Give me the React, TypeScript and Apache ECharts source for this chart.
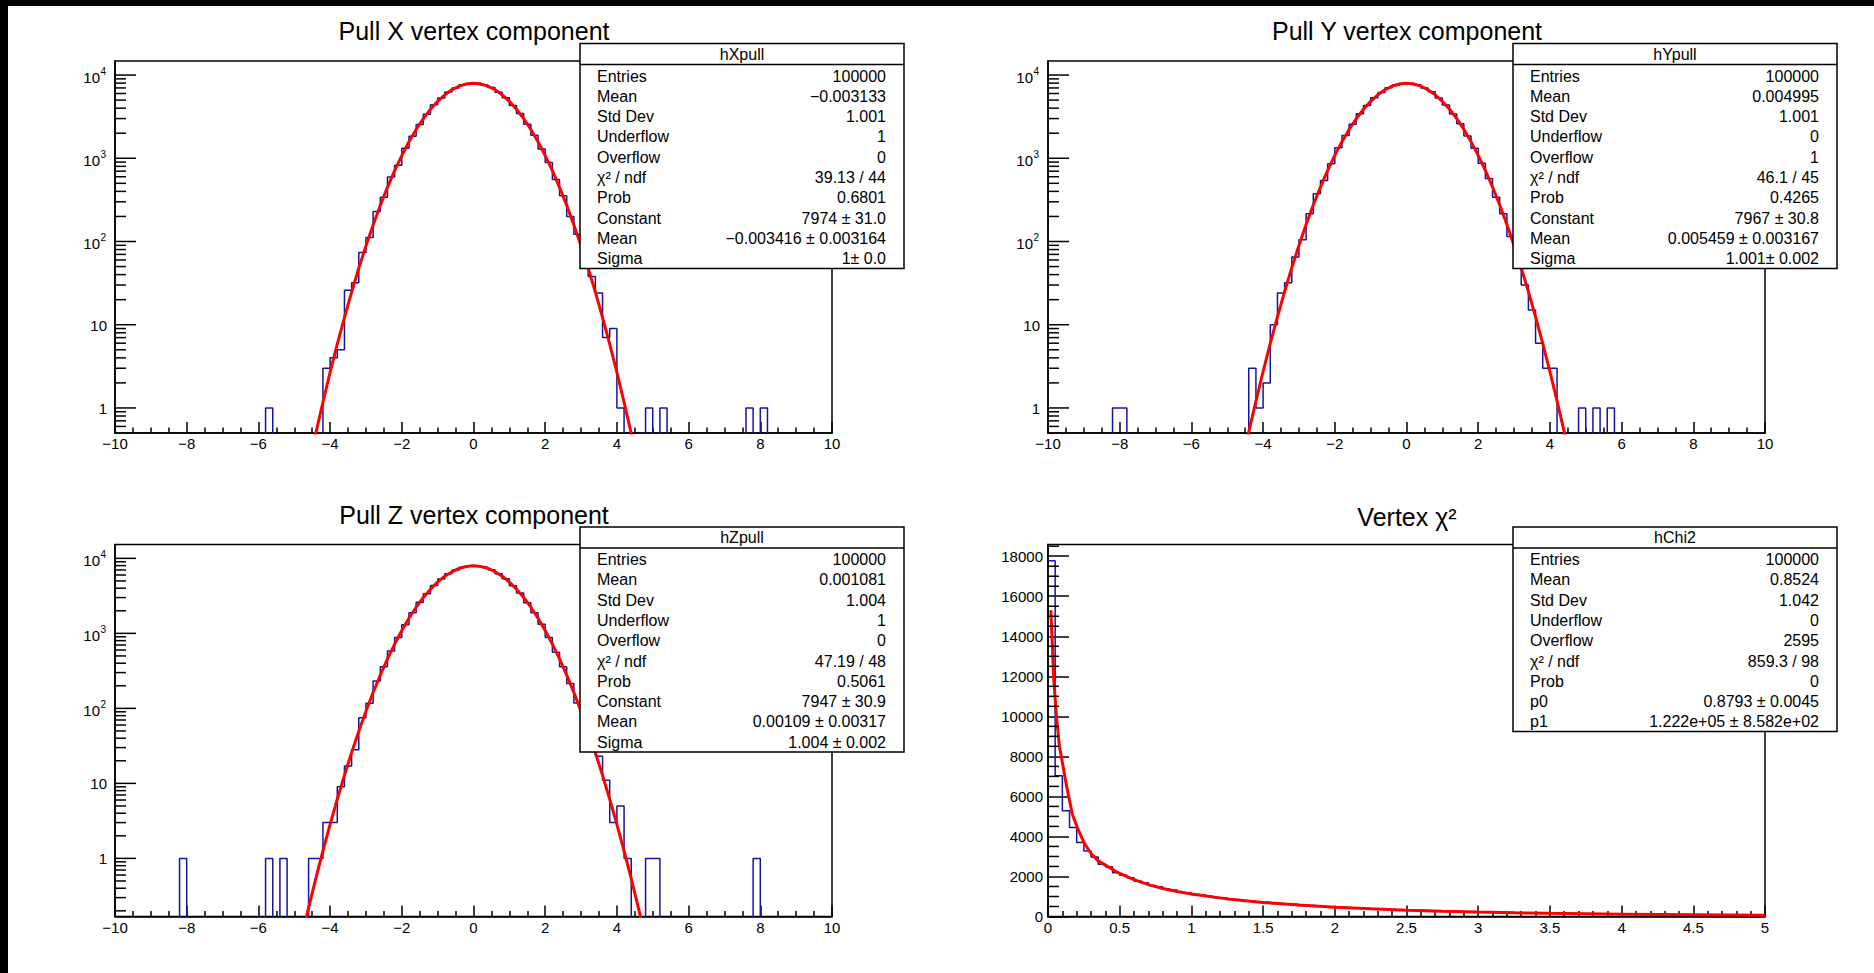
import React, { useEffect, useRef } from "react";
import * as echarts from "echarts";

const FONT = "'Liberation Sans', Arial, Helvetica, sans-serif";
const BLUE = "#1414a0";
const RED = "#ff0000";

// ---------------- data ----------------
const pullBinWidth = 0.2;
const pullXMin = -10;
const pullXMax = 10;
const pullNBins = 100;

// Pull X: bin contents from lower edge xPullCoreStart in 0.2 steps, plus isolated tail bins [lowEdge, count]
const xPullCoreStart = -4.4;
const xPullCore = [0, 3, 4, 5, 26, 32, 74, 112, 229, 340, 596, 824, 1318, 1841, 2540, 3390, 4390, 5290, 6260, 7010, 7650, 7920, 7960, 7600, 7080, 6230, 5330, 4320, 3440, 2570, 1890, 1290, 890, 555, 355, 200, 122, 63, 38, 24, 7, 9, 1];
const xPullTail = [[-5.8, 1], [4.8, 1], [5.2, 1], [7.6, 1], [8.0, 1]];

const yPullCoreStart = -4.4;
const yPullCore = [3, 1, 2, 10, 24, 32, 65, 105, 215, 375, 540, 860, 1340, 1880, 2560, 3420, 4300, 5350, 6190, 7060, 7610, 7900, 7980, 7650, 7000, 6280, 5300, 4380, 3400, 2600, 1850, 1320, 870, 570, 340, 215, 115, 70, 30, 15, 6, 3, 3];
const yPullTail = [[-8.2, 1], [-8.0, 1], [4.8, 1], [5.2, 1], [5.6, 1]];

const zPullCoreStart = -4.6;
const zPullCore = [1, 1, 3, 3, 9, 17, 28, 75, 117, 231, 360, 580, 880, 1300, 1890, 2600, 3380, 4360, 5300, 6220, 6990, 7630, 7880, 7940, 7590, 7060, 6250, 5360, 4310, 3450, 2560, 1880, 1320, 880, 560, 360, 215, 118, 62, 33, 23, 11, 3, 5, 1];
const zPullTail = [[-8.2, 1], [-5.8, 1], [-5.4, 1], [4.8, 1], [5.0, 1], [7.8, 1]];

// Gaussian fit curves
const fitX48 = [-4.8, -4.6, -4.4, -4.2, -4.0, -3.8, -3.6, -3.4, -3.2, -3.0, -2.8, -2.6, -2.4, -2.2, -2.0, -1.8, -1.6, -1.4, -1.2, -1.0, -0.8, -0.6, -0.4, -0.2, 0, 0.2, 0.4, 0.6, 0.8, 1.0, 1.2, 1.4, 1.6, 1.8, 2.0, 2.2, 2.4, 2.6, 2.8, 3.0, 3.2, 3.4, 3.6, 3.8, 4.0, 4.2, 4.4, 4.6, 4.8];
const fitX50 = [-5.0, -4.8, -4.6, -4.4, -4.2, -4.0, -3.8, -3.6, -3.4, -3.2, -3.0, -2.8, -2.6, -2.4, -2.2, -2.0, -1.8, -1.6, -1.4, -1.2, -1.0, -0.8, -0.6, -0.4, -0.2, 0, 0.2, 0.4, 0.6, 0.8, 1.0, 1.2, 1.4, 1.6, 1.8, 2.0, 2.2, 2.4, 2.6, 2.8, 3.0, 3.2, 3.4, 3.6, 3.8, 4.0, 4.2, 4.4, 4.6, 4.8, 5.0];
const xFit = [0.079, 0.202, 0.496, 1.17, 2.67, 5.84, 12.2, 24.6, 47.7, 88.6, 158, 272, 448, 709, 1079, 1578, 2217, 2993, 3881, 4837, 5790, 6661, 7361, 7816, 7974, 7816, 7361, 6661, 5790, 4837, 3881, 2993, 2217, 1578, 1079, 709, 448, 272, 158, 88.6, 47.7, 24.6, 12.2, 5.84, 2.67, 1.17, 0.496, 0.202, 0.079];
const yFit = [0.083, 0.211, 0.515, 1.21, 2.74, 5.97, 12.4, 25.0, 48.4, 89.7, 160, 274, 451, 713, 1083, 1583, 2222, 2997, 3884, 4838, 5789, 6658, 7356, 7810, 7967, 7810, 7356, 6658, 5789, 4838, 3884, 2997, 2222, 1583, 1083, 713, 451, 274, 160, 89.7, 48.4, 25.0, 12.4, 5.97, 2.74, 1.21, 0.515, 0.211, 0.083];
const zFit = [0.033, 0.0864, 0.219, 0.536, 1.26, 2.84, 6.15, 12.8, 25.7, 49.5, 91.5, 163, 278, 456, 720, 1093, 1593, 2232, 3006, 3890, 4839, 5785, 6648, 7341, 7791, 7947, 7791, 7341, 6648, 5785, 4839, 3890, 3006, 2232, 1593, 1093, 720, 456, 278, 163, 91.5, 49.5, 25.7, 12.8, 6.15, 2.84, 1.26, 0.536, 0.219, 0.0864, 0.033];

// Chi2 histogram: 100 bins of 0.05 from 0 to 5
const chi2BinWidth = 0.05;
const chi2XMin = 0;
const chi2XMax = 5;
const chi2Hist = [17770, 7036, 5280, 4450, 3700, 3275, 2975, 2608, 2490, 2190,
  2060, 1935, 1770, 1690, 1545, 1490, 1380, 1330, 1225, 1180,
  1095, 1060, 1010, 940, 920, 860, 835, 785, 760, 715,
  700, 655, 640, 620, 600, 555, 545, 512, 500, 470,
  462, 448, 420, 412, 390, 385, 362, 356, 338, 330,
  312, 309, 298, 280, 276, 262, 258, 245, 242, 228,
  225, 212, 210, 198, 196, 186, 184, 174, 172, 163,
  161, 152, 150, 143, 139, 136, 129, 128, 121, 120,
  114, 112, 106, 104, 102, 97, 96, 91, 90, 86,
  85, 81, 80, 76, 75, 71, 70, 68, 65, 63];
const chi2FitX = [0.02, 0.04, 0.06, 0.08, 0.1, 0.13, 0.17, 0.21, 0.25, 0.3, 0.35, 0.42, 0.5, 0.6, 0.7, 0.8, 0.9, 1.0, 1.25, 1.5, 1.75, 2.0, 2.25, 2.5, 2.75, 3.0, 3.25, 3.5, 3.75, 4.0, 4.25, 4.5, 4.75, 5.0];
const chi2FitY = [15300, 11900, 9900, 8500, 7700, 6500, 5100, 4350, 3700, 3150, 2780, 2480, 2150, 1840, 1590, 1400, 1250, 1120, 880, 705, 570, 465, 385, 318, 265, 222, 187, 158, 135, 115, 99, 85, 73, 63];

// axis tick labels
const logMajorTicks = [1, 10, 100, 1000, 10000];

// stats boxes
const pullStatsLabels = ["Entries", "Mean", "Std Dev", "Underflow", "Overflow", "χ² / ndf", "Prob", "Constant", "Mean", "Sigma"];
const xStatsValues = ["100000", "−0.003133", "1.001", "1", "0", "39.13 / 44", "0.6801", "7974 ± 31.0", "−0.003416 ± 0.003164", "1± 0.0"];
const yStatsValues = ["100000", "0.004995", "1.001", "0", "1", "46.1 / 45", "0.4265", "7967 ± 30.8", "0.005459 ± 0.003167", "1.001± 0.002"];
const zStatsValues = ["100000", "0.001081", "1.004", "1", "0", "47.19 / 48", "0.5061", "7947 ± 30.9", "0.00109 ± 0.00317", "1.004 ± 0.002"];
const chi2StatsLabels = ["Entries", "Mean", "Std Dev", "Underflow", "Overflow", "χ² / ndf", "Prob", "p0", "p1"];
const chi2StatsValues = ["100000", "0.8524", "1.042", "0", "2595", "859.3 / 98", "0", "0.8793 ± 0.0045", "1.222e+05 ± 8.582e+02"];

// ---------------- layout ----------------
const PAD_W = 933;
const PAD_H = 483.5;
const FR_L = 107;
const FR_T = 55;
const FR_W = 717;
const FR_H = 372;
const AXIS_FONT = 15;

function buildPullBins(start: number, core: number[], tail: number[][]) {
  const bins = new Array(pullNBins).fill(0);
  core.forEach((v, k) => {
    bins[Math.round((start + k * pullBinWidth - pullXMin) / pullBinWidth)] = v;
  });
  tail.forEach(([e, v]) => {
    bins[Math.round((e - pullXMin) / pullBinWidth)] = v;
  });
  return bins;
}

function stepData(bins: number[], xmin: number, w: number, floor: number) {
  const pts = bins.map((v, i) => [xmin + i * w, v > 0 ? v : floor]);
  const last = bins[bins.length - 1];
  pts.push([xmin + bins.length * w, last > 0 ? last : floor]);
  return pts;
}

function txt(x: number, y: number, text: string, align: string, size: number, extra: any = {}) {
  return {
    type: "text",
    x,
    y,
    silent: true,
    style: {
      text,
      fill: "#000",
      fontSize: size,
      fontFamily: FONT,
      align,
      verticalAlign: "middle",
      textAlign: align,
      textVerticalAlign: "middle",
      ...extra,
    },
  };
}

function logTicks(min: number, max: number) {
  const t: { v: number; major: boolean }[] = [];
  logMajorTicks.forEach((v) => t.push({ v, major: true }));
  for (let d = 0.1; d < 20000; d *= 10) {
    for (let k = 2; k <= 9; k++) {
      const v = Math.round(k * d * 1000) / 1000;
      if (v > min * 1.001 && v < max) t.push({ v, major: false });
    }
  }
  return t;
}

export default function App() {
  const ref = useRef<HTMLDivElement>(null);

  useEffect(() => {
    const chart = echarts.init(ref.current!, null, { renderer: "svg" });

    const pads = [
      { kind: "pull", title: "Pull X vertex component", name: "hXpull", bins: buildPullBins(xPullCoreStart, xPullCore, xPullTail), fx: fitX48, fy: xFit, yMin: 0.5, yMax: 14750, labels: pullStatsLabels, values: xStatsValues },
      { kind: "pull", title: "Pull Y vertex component", name: "hYpull", bins: buildPullBins(yPullCoreStart, yPullCore, yPullTail), fx: fitX48, fy: yFit, yMin: 0.5, yMax: 14750, labels: pullStatsLabels, values: yStatsValues },
      { kind: "pull", title: "Pull Z vertex component", name: "hZpull", bins: buildPullBins(zPullCoreStart, zPullCore, zPullTail), fx: fitX50, fy: zFit, yMin: 0.168, yMax: 15300, labels: pullStatsLabels, values: zStatsValues },
      { kind: "chi2", title: "Vertex χ²", name: "hChi2", bins: chi2Hist, fx: chi2FitX, fy: chi2FitY, yMin: 0, yMax: 18585, labels: chi2StatsLabels, values: chi2StatsValues },
    ];

    const grids: any[] = [];
    const xAxes: any[] = [];
    const yAxes: any[] = [];
    const series: any[] = [];
    const graphics: any[] = [];

    const axisCommon = {
      splitLine: { show: false },
      axisLine: { show: true, onZero: false, lineStyle: { color: "#000", width: 1.5 } },
    };

    pads.forEach((p, i) => {
      const ox = (i % 2) * PAD_W;
      const oy = Math.floor(i / 2) * PAD_H;
      grids.push({
        left: ox + FR_L,
        top: oy + FR_T,
        width: FR_W,
        height: FR_H,
        show: true,
        borderColor: "#000",
        borderWidth: 1.5,
        backgroundColor: "rgba(0,0,0,0)",
        containLabel: false,
      });

      const isPull = p.kind === "pull";
      xAxes.push({
        ...axisCommon,
        gridIndex: i,
        type: "value",
        min: isPull ? pullXMin : chi2XMin,
        max: isPull ? pullXMax : chi2XMax,
        interval: isPull ? 2 : 0.5,
        axisTick: { show: true, inside: true, length: 11, lineStyle: { color: "#000", width: 1.5 } },
        minorTick: { show: true, splitNumber: isPull ? 4 : 5, length: 5.5, lineStyle: { color: "#000", width: 1.5 } },
        axisLabel: {
          color: "#000",
          fontSize: AXIS_FONT,
          fontFamily: FONT,
          margin: 3,
          formatter: (v: number) => (v < 0 ? "\u2212" + Math.abs(v) : String(v)),
        },
      });

      if (isPull) {
        yAxes.push({
          ...axisCommon,
          gridIndex: i,
          type: "log",
          logBase: 10,
          min: p.yMin,
          max: p.yMax,
          axisTick: { show: false },
          axisLabel: { show: false },
          minorTick: { show: false },
        });
        const ticks = logTicks(p.yMin, p.yMax);
        series.push({
          type: "custom",
          xAxisIndex: i,
          yAxisIndex: i,
          silent: true,
          z: 6,
          clip: false,
          encode: { x: 0, y: 1 },
          data: ticks.map((t) => [pullXMin, t.v, t.major ? 1 : 0]),
          renderItem: (params: any, api: any) => {
            const v = api.value(1) as number;
            const major = api.value(2) === 1;
            const pt = api.coord([api.value(0), v]);
            const children: any[] = [
              {
                type: "line",
                shape: { x1: pt[0], y1: pt[1], x2: pt[0] + (major ? 21 : 11), y2: pt[1] },
                style: { stroke: "#000", lineWidth: 1.5 },
              },
            ];
            if (major) {
              const e = Math.round(Math.log10(v));
              if (e <= 1) {
                children.push(txt(pt[0] - 8, pt[1] + 0.5, String(v), "right", AXIS_FONT));
              } else {
                children.push(txt(pt[0] - 15, pt[1] + 2.5, "10", "right", AXIS_FONT));
                children.push(txt(pt[0] - 14.5, pt[1] - 4, String(e), "left", 10));
              }
            }
            return { type: "group", children };
          },
        });
      } else {
        yAxes.push({
          ...axisCommon,
          gridIndex: i,
          type: "value",
          min: p.yMin,
          max: p.yMax,
          interval: 2000,
          axisTick: { show: true, inside: true, length: 21, lineStyle: { color: "#000", width: 1.5 } },
          minorTick: { show: false },
          axisLabel: {
            color: "#000",
            fontSize: AXIS_FONT,
            fontFamily: FONT,
            margin: 5,
            showMaxLabel: false,
            formatter: (v: number) => String(v),
          },
        });
        const minors: number[] = [];
        for (let v = 500; v < p.yMax; v += 500) if (v % 2000 !== 0) minors.push(v);
        series.push({
          type: "custom",
          xAxisIndex: i,
          yAxisIndex: i,
          silent: true,
          z: 6,
          clip: false,
          encode: { x: 0, y: 1 },
          data: minors.map((v) => [chi2XMin, v]),
          renderItem: (params: any, api: any) => {
            const pt = api.coord([api.value(0), api.value(1)]);
            return {
              type: "line",
              shape: { x1: pt[0], y1: pt[1], x2: pt[0] + 11, y2: pt[1] },
              style: { stroke: "#000", lineWidth: 1.5 },
            };
          },
        });
      }

      // histogram outline
      series.push({
        type: "line",
        xAxisIndex: i,
        yAxisIndex: i,
        step: "end",
        symbol: "none",
        showSymbol: false,
        silent: true,
        clip: true,
        z: 3,
        lineStyle: { color: BLUE, width: 1.5 },
        data: isPull
          ? stepData(p.bins, pullXMin, pullBinWidth, 0.001)
          : stepData(p.bins, chi2XMin, chi2BinWidth, 0),
      });
      // fit curve
      series.push({
        type: "line",
        xAxisIndex: i,
        yAxisIndex: i,
        symbol: "none",
        showSymbol: false,
        silent: true,
        clip: true,
        z: 4,
        lineStyle: { color: RED, width: 3 },
        data: p.fx.map((x, k) => [x, p.fy[k]]),
      });

      // title
      graphics.push({ ...txt(ox + 466, oy + (isPull ? 25 : 27.5), p.title, "center", 25), z: 100 });

      // stats box
      const bl = ox + 572;
      const bt = oy + 37.5;
      const bw = 324;
      const bh = 21 + p.labels.length * 20.4;
      graphics.push({
        type: "rect",
        z: 100,
        silent: true,
        shape: { x: bl, y: bt, width: bw, height: bh },
        style: { fill: "#fff", stroke: "#000", lineWidth: 1.5 },
      });
      graphics.push({
        type: "line",
        z: 101,
        silent: true,
        shape: { x1: bl, y1: bt + 21, x2: bl + bw, y2: bt + 21 },
        style: { stroke: "#000", lineWidth: 1.5 },
      });
      graphics.push({ ...txt(bl + bw / 2, bt + 10.5, p.name, "center", 16), z: 101 });
      p.labels.forEach((lab, k) => {
        const y = bt + 32.5 + k * 20.3;
        graphics.push({ ...txt(bl + 17, y, lab, "left", 16), z: 101 });
        graphics.push({ ...txt(bl + 306, y, p.values[k], "right", 16), z: 101 });
      });
    });

    chart.setOption({
      animation: false,
      backgroundColor: "#fff",
      textStyle: { fontFamily: FONT },
      grid: grids,
      xAxis: xAxes,
      yAxis: yAxes,
      series,
      graphic: { elements: graphics },
    });

    return () => chart.dispose();
  }, []);

  return (
    <div style={{ position: "fixed", left: 0, top: 0, width: 1874, height: 973, background: "#000" }}>
      <div ref={ref} style={{ position: "absolute", left: 8, top: 6, width: 1866, height: 967, background: "#fff" }} />
    </div>
  );
}
